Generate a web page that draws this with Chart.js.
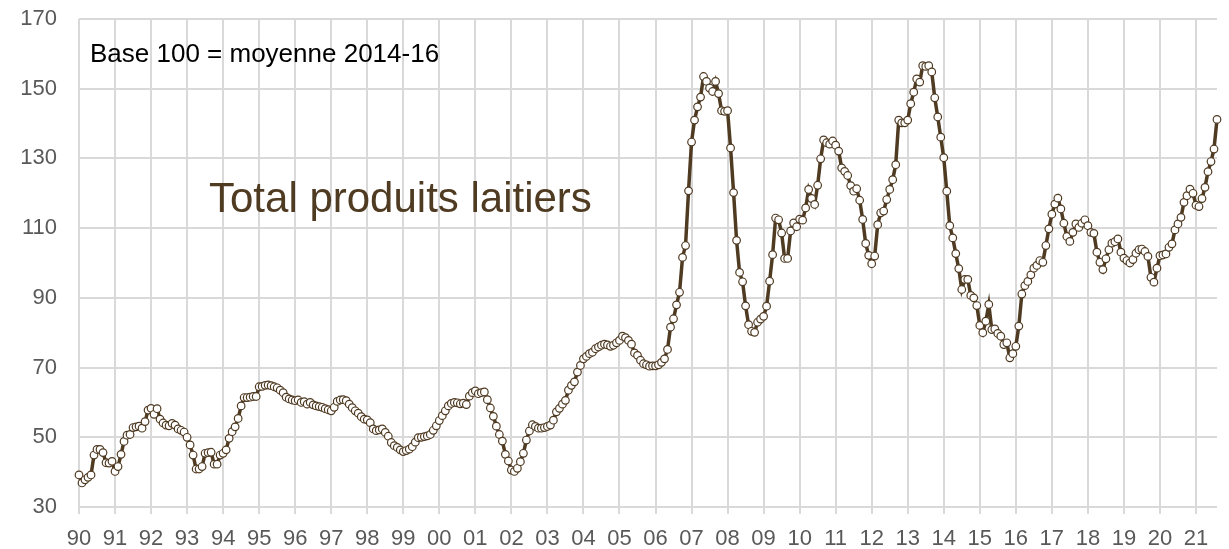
<!DOCTYPE html>
<html>
<head>
<meta charset="utf-8">
<script src="https://cdn.jsdelivr.net/npm/chart.js@4.4.1/dist/chart.umd.min.js"></script>
<style>
  html, body { margin: 0; padding: 0; background: #fff; }
  #wrap { width: 1229px; height: 549px; }
</style>
</head>
<body>
<div id="wrap"><canvas id="canvas"></canvas></div>
<script>
// tick labels, one per 12 months (axis starts at the 90 tick)
const yearLabels = ['90','91','92','93','94','95','96','97','98','99',
                    '00','01','02','03','04','05','06','07','08','09',
                    '10','11','12','13','14','15','16','17','18','19',
                    '20','21'];

// monthly index, base 100 = 2014-16, one row per year tick
const idx90s = [
  39.2, 36.9, 37.8, 38.5, 39.2, 44.9, 46.5, 46.5, 45.6, 42.7, 42.6, 43.1, // 90
  40.2, 41.6, 45.1, 48.8, 50.6, 50.8, 52.8, 53.0, 53.2, 52.6, 54.5, 57.8, // 91
  58.3, 56.6, 58.2, 55.2, 54.1, 53.5, 53.3, 54.0, 53.5, 52.4, 52.0, 51.5, // 92
  50.0, 47.8, 44.9, 40.9, 40.9, 41.6, 45.4, 45.6, 45.7, 42.3, 42.3, 44.9, // 93
  45.4, 46.4, 49.7, 51.6, 53.0, 55.4, 59.0, 61.4, 61.4, 61.5, 61.7, 61.7, // 94
  64.5, 64.6, 64.9, 65.0, 64.8, 64.5, 64.2, 63.5, 62.8, 61.5, 61.0, 60.7, // 95
  60.5, 60.7, 60.0, 60.2, 59.5, 60.0, 59.3, 59.0, 58.8, 58.6, 58.2, 57.9, // 96
  57.6, 58.6, 60.3, 60.7, 60.8, 60.5, 59.5, 58.5, 57.6, 56.9, 55.9, 55.2, // 97
  55.0, 54.2, 52.4, 51.9, 52.1, 52.4, 51.4, 50.3, 48.5, 47.6, 47.1, 46.4, // 98
  45.9, 46.2, 46.6, 47.3, 48.6, 49.9, 50.0, 50.2, 50.4, 50.8, 52.0, 53.3  // 99
];
const idx00s = [
  54.8, 56.2, 57.6, 59.0, 59.7, 60.0, 59.9, 59.6, 59.8, 59.4, 61.8, 62.8, // 00
  63.3, 62.5, 62.8, 63.0, 60.8, 58.4, 56.0, 53.2, 50.8, 48.9, 45.1, 43.2, // 01
  40.6, 40.2, 41.1, 43.0, 45.4, 49.2, 51.8, 53.6, 53.1, 52.6, 52.6, 52.8, // 02
  53.1, 53.5, 54.9, 57.3, 58.3, 59.5, 60.6, 63.5, 64.9, 65.9, 68.7, 70.6, // 03
  72.5, 73.2, 74.0, 74.4, 75.4, 75.9, 76.4, 76.7, 76.5, 76.1, 76.4, 77.1, // 04
  77.8, 79.0, 78.6, 77.8, 76.7, 74.2, 73.5, 72.1, 71.1, 70.8, 70.4, 70.5, // 05
  70.5, 70.8, 71.5, 72.5, 75.2, 81.6, 84.0, 88.0, 91.6, 101.6, 105.0, 120.7, // 06
  134.7, 141.0, 144.8, 147.6, 153.5, 152.1, 150.2, 149.2, 152.1, 148.6, 143.7, 143.5, // 07
  143.7, 133.0, 120.2, 106.5, 97.3, 94.6, 87.7, 82.3, 80.4, 80.1, 83.0, 83.9, // 08
  84.7, 87.6, 94.8, 102.4, 112.9, 112.4, 108.6, 101.3, 101.3, 109.2, 111.5, 110.4 // 09
];
const idx10s = [
  112.6, 112.3, 115.8, 121.1, 118.5, 116.8, 122.3, 129.9, 135.3, 134.5, 134.1, 135.0, // 10
  133.8, 132.1, 127.3, 126.3, 125.1, 122.2, 120.6, 121.3, 118.0, 112.5, 105.6, 102.2, // 11
  99.8, 102.0, 111.0, 114.4, 114.9, 118.2, 121.1, 123.9, 128.2, 141.0, 140.2, 140.2, // 12
  141.0, 145.7, 149.0, 152.8, 151.9, 156.6, 156.4, 156.6, 154.8, 147.4, 141.9, 136.1, // 13
  130.2, 120.6, 110.7, 107.2, 102.7, 98.4, 92.4, 95.3, 95.3, 90.7, 90.0, 87.8, // 14
  82.1, 80.0, 83.3, 88.1, 80.9, 81.1, 79.8, 79.0, 76.6, 77.1, 72.8, 74.0, // 15
  76.1, 81.9, 91.1, 93.5, 94.7, 96.6, 98.5, 99.3, 100.7, 100.2, 105.0, 109.8, // 16
  114.0, 116.9, 118.6, 115.5, 111.4, 107.6, 106.2, 108.8, 111.2, 110.2, 111.4, 112.4, // 17
  110.7, 108.8, 108.5, 103.1, 100.2, 98.1, 101.2, 103.8, 105.7, 106.1, 106.9, 103.1, // 18
  101.4, 100.7, 100.0, 101.0, 102.8, 103.8, 104.0, 103.3, 101.9, 95.9, 94.5, 98.5 // 19
];
const idx20s = [
  102.1, 102.3, 102.6, 104.5, 105.5, 109.5, 111.2, 113.1, 117.4, 119.3, 121.2, 120.0, // 20
  116.6, 116.2, 118.5, 121.7, 126.2, 129.1, 132.7, 141.2 // 21
];

const values = [...idx90s, ...idx00s, ...idx10s, ...idx20s];
const labels = values.map((v, i) => i % 12 === 0 ? yearLabels[i / 12] : '');

const brown = '#4f3a22';
const gridGrey = '#d9d9d9';
const font = '"Liberation Sans", Arial, sans-serif';

const notes = {
  id: 'notes',
  afterDraw(chart) {
    const c = chart.ctx;
    c.save();
    c.textBaseline = 'alphabetic';
    c.textAlign = 'left';
    c.fillStyle = '#000';
    c.font = '26px ' + font;
    c.fillText('Base 100 = moyenne 2014-16', 90, 62);
    c.fillStyle = brown;
    c.font = '42px ' + font;
    c.fillText('Total produits laitiers', 209, 212);
    c.restore();
  }
};

const canvas = document.getElementById('canvas');
const chart = new Chart(canvas, {
  type: 'line',
  data: {
    labels: labels,
    datasets: [{
      data: values,
      borderColor: brown,
      borderWidth: 3.5,
      pointRadius: 3.8,
      pointBorderWidth: 1.2,
      pointBackgroundColor: '#fff',
      pointBorderColor: brown,
      tension: 0
    }]
  },
  options: {
    responsive: true,
    maintainAspectRatio: false,
    animation: false,
    layout: { padding: { top: 19, right: 8, left: 0, bottom: 0 } },
    plugins: { legend: { display: false }, tooltip: { enabled: false } },
    scales: {
      x: {
        offset: false,
        border: { display: false },
        grid: {
          color: ctx => (ctx.index % 12 === 0 ? gridGrey : 'transparent'),
          lineWidth: 2,
          drawTicks: true,
          tickLength: 7
        },
        ticks: {
          autoSkip: false,
          maxRotation: 0,
          minRotation: 0,
          padding: 12,
          color: '#595959',
          font: { family: font, size: 22 }
        },
        afterFit: s => { s.height = 42; }
      },
      y: {
        min: 30,
        max: 170,
        border: { display: false },
        grid: { color: gridGrey, lineWidth: 2, drawTicks: false },
        ticks: {
          stepSize: 20,
          padding: 22,
          color: '#595959',
          font: { family: font, size: 22 }
        },
        afterFit: s => {
          s.width = 79;
          s.paddingTop = 0;
          s.paddingBottom = 0;
        }
      }
    }
  },
  plugins: [notes]
});
</script>
</body>
</html>
